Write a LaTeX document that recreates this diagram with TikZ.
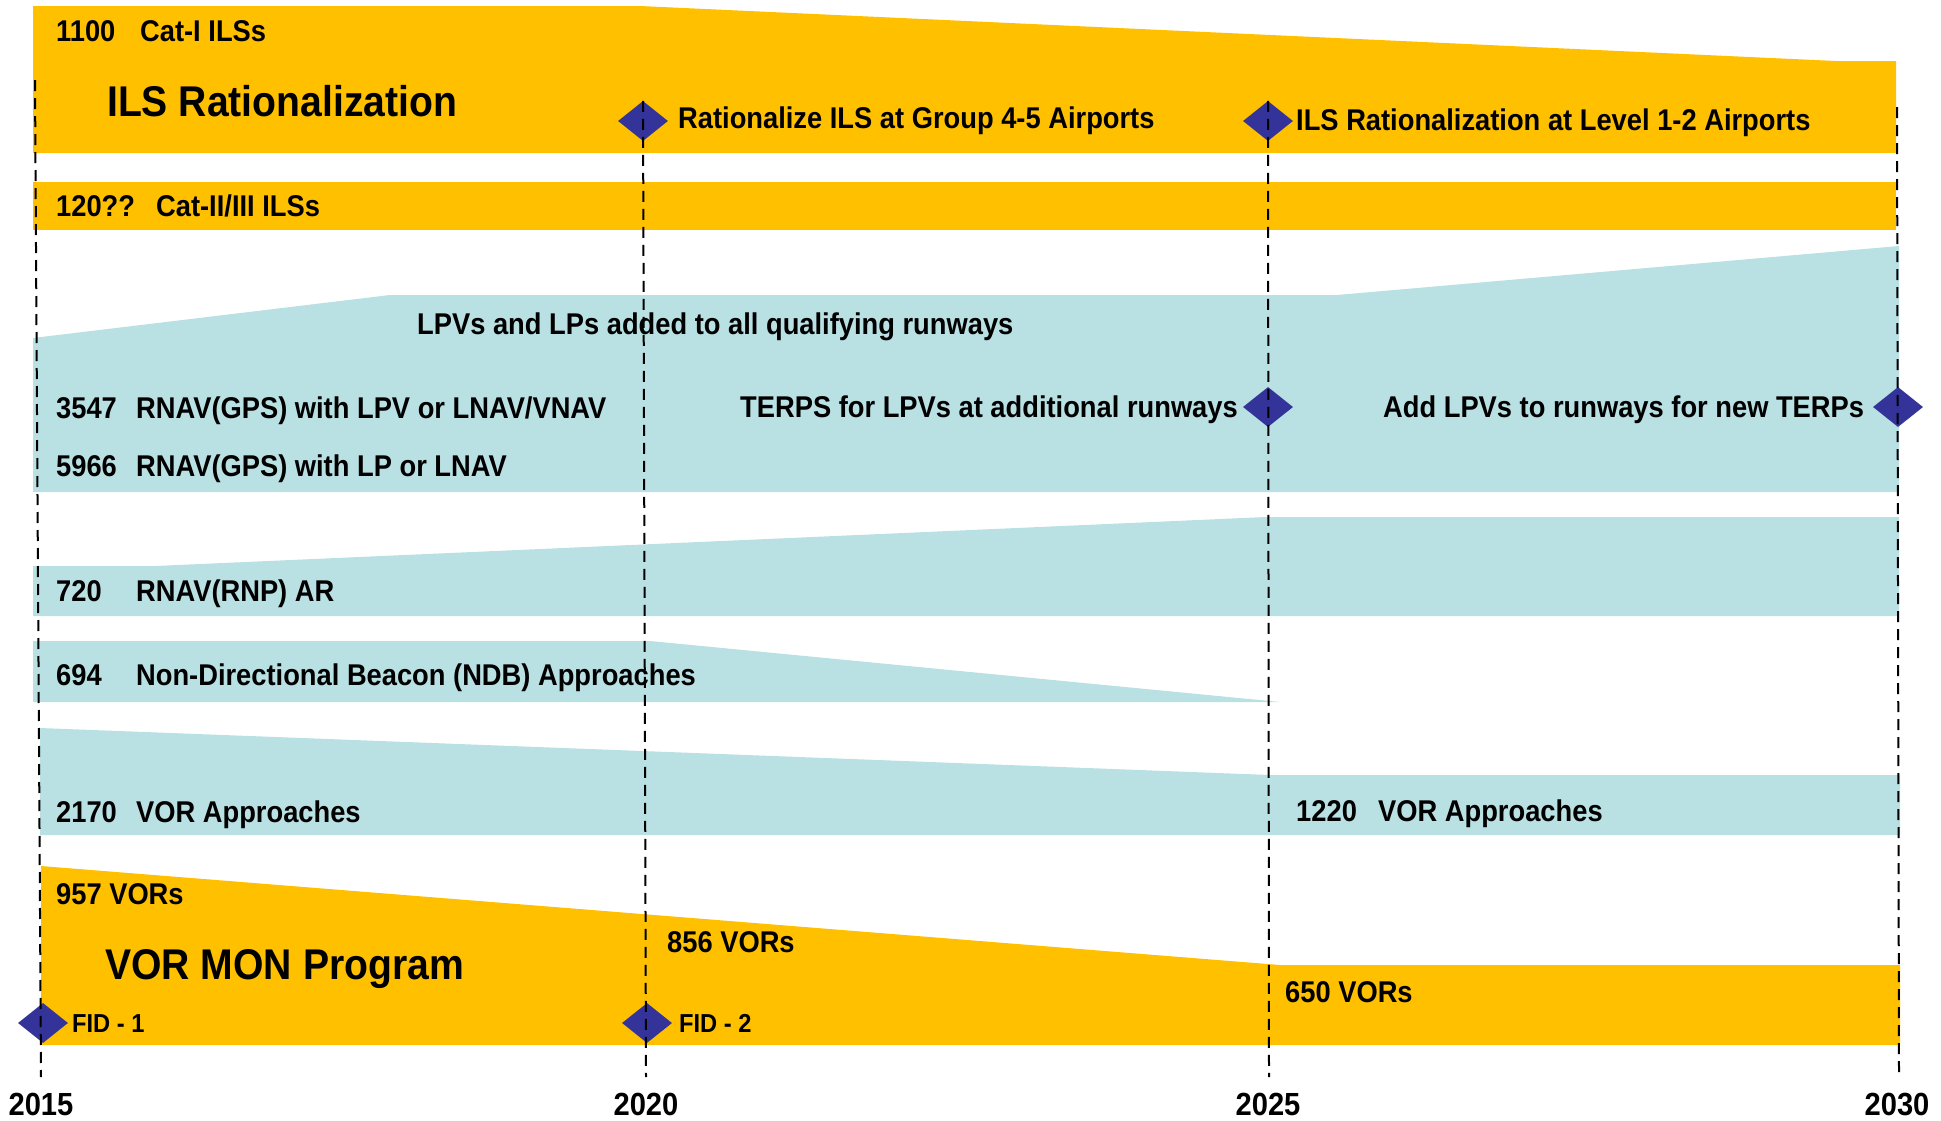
\documentclass[tikz,border=0pt]{standalone}
\usepackage{fontspec}
\setmainfont{Liberation Sans}[FakeStretch=0.91]
\usetikzlibrary{shapes.geometric}
\definecolor{gold}{RGB}{255,192,0}
\definecolor{aqua}{RGB}{185,224,227}
\definecolor{navy}{RGB}{51,51,153}
\newcommand\numbox[2]{\makebox[#1pt][l]{#2}}
\begin{document}
\begin{tikzpicture}[x=1pt,y=-1pt,
  lbl/.style={anchor=west, inner sep=0pt, text height=21.5pt, text depth=0pt, font=\fontsize{30}{32}\selectfont\bfseries},
  big/.style={anchor=west, inner sep=0pt, text height=30.8pt, text depth=0pt, font=\fontsize{43}{46}\selectfont\bfseries},
  fid/.style={anchor=west, inner sep=0pt, text height=18.6pt, text depth=0pt, font=\fontsize{26}{28}\selectfont\bfseries},
  yr/.style={anchor=center, inner sep=0pt, text height=22.9pt, text depth=0pt, font=\fontsize{32}{34}\selectfont\bfseries},
  dmd/.style={diamond, fill=navy, minimum width=50pt, minimum height=40pt, inner sep=0pt},
  vline/.style={black, line width=2pt, dash pattern=on 11pt off 7pt},
  ]
\useasboundingbox (0,0) rectangle (1941,1120);
\fill[white] (0,0) rectangle (1941,1120);
% bands
\fill[gold] (33,6) -- (640,6) -- (1836,61) -- (1896,61) -- (1896,153) -- (33,153) -- cycle;
\fill[gold] (33,182) rectangle (1896,230);
\fill[aqua] (33,338) -- (390,295) -- (1337,295) -- (1899,246) -- (1899,492) -- (33,492) -- cycle;
\fill[aqua] (33,566) -- (155,566) -- (1266,517) -- (1899,517) -- (1899,616) -- (33,616) -- cycle;
\fill[aqua] (33,641) -- (650,641) -- (1280,702) -- (33,702) -- cycle;
\fill[aqua] (40,728) -- (1270,775) -- (1900,775) -- (1900,835) -- (40,835) -- cycle;
\fill[gold] (41,866) -- (1280,965) -- (1900,965) -- (1900,1045) -- (41,1045) -- cycle;
% milestones
\node[dmd] (d1) at (643,121) {};
\node[dmd] (d2) at (1268,121) {};
\node[dmd] (d3) at (1268,407) {};
\node[dmd] (d4) at (1898,407) {};
\node[dmd] (d5) at (43,1023) {};
\node[dmd] (d6) at (647,1023) {};
% year lines
\coordinate (t15) at (35,80);
\coordinate (b15) at (41,1077);
\coordinate (b20) at (646,1077);
\coordinate (b25) at (1269,1077);
\coordinate (t30) at (1897,107);
\coordinate (b30) at (1899,1077);
\draw[vline] (t15) -- (b15);
\draw[vline] (d1.north) -- (b20);
\draw[vline] (d2.north) -- (b25);
\draw[vline] (t30) -- (b30);
% texts
\node[lbl] (t1100) at (56,31) {\numbox{84}{1100}Cat-I ILSs};
\node[big] (tils) at (107,101.5) {ILS Rationalization};
\node[lbl] (tr45) at (678,118) {Rationalize ILS at Group 4-5 Airports};
\node[lbl] (tr12) at (1296,120) {ILS Rationalization at Level 1-2 Airports};
\node[lbl] (t120) at (56,206) {\numbox{100}{120??}Cat-II/III ILSs};
\node[lbl] (tlpv) at (417,324) {LPVs and LPs added to all qualifying runways};
\node[lbl] (t3547) at (56,408) {\numbox{80}{3547}RNAV(GPS) with LPV or LNAV/VNAV};
\node[lbl] (t5966) at (56,466) {\numbox{80}{5966}RNAV(GPS) with LP or LNAV};
\node[lbl] (tterps) at (740,407) {TERPS for LPVs at additional runways};
\node[lbl] (tadd) at (1383,407) {Add LPVs to runways for new TERPs};
\node[lbl] (t720) at (56,591) {\numbox{80}{720}RNAV(RNP) AR};
\node[lbl] (t694) at (56,675) {\numbox{80}{694}Non-Directional Beacon (NDB) Approaches};
\node[lbl] (t2170) at (56,812) {\numbox{80}{2170}VOR Approaches};
\node[lbl] (t1220) at (1296,811) {\numbox{82}{1220}VOR Approaches};
\node[lbl] (t957) at (56,894) {957 VORs};
\node[big] (tmon) at (105,964) {VOR MON Program};
\node[fid] (tf1) at (72,1023) {FID - 1};
\node[lbl] (t856) at (667,942) {856 VORs};
\node[fid] (tf2) at (679,1023) {FID - 2};
\node[lbl] (t650) at (1285,992) {650 VORs};
\node[yr] (y15) at (41,1104) {2015};
\node[yr] (y20) at (646,1104) {2020};
\node[yr] (y25) at (1268,1104) {2025};
\node[yr] (y30) at (1897,1104) {2030};
\end{tikzpicture}
\end{document}
